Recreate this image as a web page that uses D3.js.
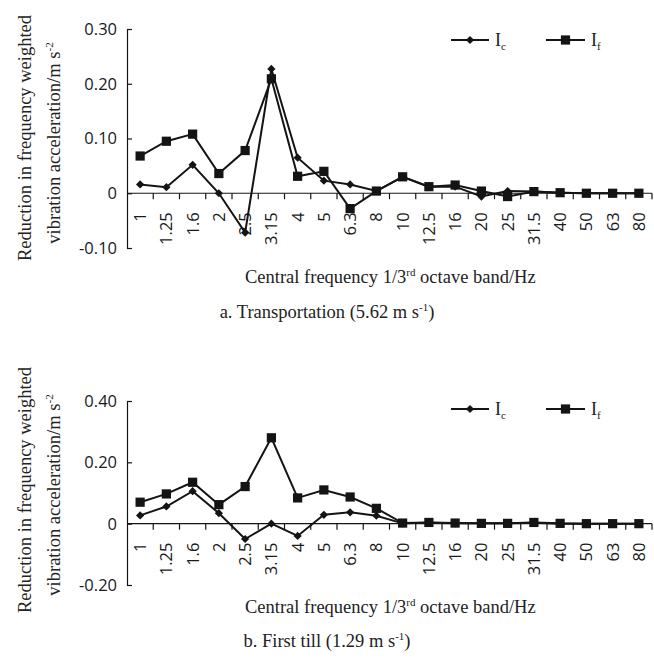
<!DOCTYPE html>
<html>
<head>
<meta charset="utf-8">
<script src="https://cdn.jsdelivr.net/npm/d3@7"></script>
<style>
  body { margin: 0; background: #fff; }
  svg { display: block; }
</style>
</head>
<body>
<script>
// 1/3 octave band centre frequencies (Hz)
const bands = ['1', '1.25', '1.6', '2', '2.5', '3.15', '4', '5', '6.3', '8',
  '10', '12.5', '16', '20', '25', '31.5', '40', '50', '63', '80'];

// a. Transportation
const icTransport = [0.016, 0.011, 0.052, 0.0, -0.072, 0.227, 0.065, 0.023, 0.016, 0.004,
  0.030, 0.012, 0.012, -0.006, 0.004, 0.003, 0.001, 0.0, 0.0, 0.0];
const ifTransport = [0.068, 0.095, 0.108, 0.036, 0.078, 0.209, 0.031, 0.040, -0.028, 0.004,
  0.030, 0.012, 0.015, 0.004, -0.006, 0.003, 0.001, 0.0, 0.0, 0.0];
const yTicksTransport = [0.30, 0.20, 0.10, 0, -0.10];
const yLabelsTransport = ['0.30', '0.20', '0.10', '0', '-0.10'];

// b. First till
const icTill = [0.027, 0.056, 0.106, 0.034, -0.050, 0.0, -0.040, 0.029, 0.037, 0.026,
  0.001, 0.003, 0.001, 0.001, 0.001, 0.003, 0.0, 0.0, 0.0, 0.0];
const ifTill = [0.070, 0.097, 0.135, 0.062, 0.121, 0.280, 0.084, 0.110, 0.087, 0.050,
  0.002, 0.004, 0.002, 0.001, 0.001, 0.004, 0.001, 0.0, 0.0, 0.0];
const yTicksTill = [0.40, 0.20, 0, -0.20];
const yLabelsTill = ['0.40', '0.20', '0', '-0.20'];

const W = 654, H = 658;
const ink = '#141414';
const serif = '"Liberation Serif", "Times New Roman", serif';
const sans = '"Open Sans", sans-serif';

const svg = d3.select('body').append('svg')
  .attr('width', W).attr('height', H);

const x = d3.scaleBand().domain(bands).range([127, 652]);
const cx = b => x(b) + x.bandwidth() / 2;

const panels = [
  { ic: icTransport, iff: ifTransport, ticks: yTicksTransport, labels: yLabelsTransport,
    domain: [-0.10, 0.30], range: [248, 29], legendY: 40, titleY: 283, captionY: 318,
    yTitleMid: 138, caption: ['a. Transportation (5.62 m s', '-1', ')'] },
  { ic: icTill, iff: ifTill, ticks: yTicksTill, labels: yLabelsTill,
    domain: [-0.20, 0.40], range: [585, 401], legendY: 409, titleY: 613, captionY: 647,
    yTitleMid: 490, caption: ['b. First till (1.29 m s', '-1', ')'] }
];

panels.forEach(p => {
  const g = svg.append('g');
  const y = d3.scaleLinear().domain(p.domain).range(p.range);
  const y0 = y(0);

  // y axis, ticks pointing inwards
  const ya = g.append('g')
    .attr('transform', 'translate(127,0)')
    .call(d3.axisRight(y).tickValues(p.ticks).tickSize(5).tickSizeOuter(0).tickFormat(''));
  ya.selectAll('path, line').attr('stroke', ink).attr('stroke-width', 1.2);

  g.selectAll('.ytl')
    .data(p.ticks)
    .join('text')
    .attr('x', 117)
    .attr('y', d => y(d))
    .attr('dy', '0.36em')
    .attr('text-anchor', 'end')
    .style('font-family', sans)
    .style('font-size', '16.5px')
    .attr('fill', '#1a1a1a')
    .text((d, i) => p.labels[i]);

  // x axis along the zero line
  g.append('line')
    .attr('x1', 127).attr('x2', x.range()[1])
    .attr('y1', y0).attr('y2', y0)
    .attr('stroke', ink).attr('stroke-width', 1.2);

  g.selectAll('.xtk')
    .data(bands.slice(1).concat(['end']))
    .join('line')
    .attr('x1', d => d === 'end' ? x.range()[1] : x(d))
    .attr('x2', d => d === 'end' ? x.range()[1] : x(d))
    .attr('y1', y0).attr('y2', y0 + 6)
    .attr('stroke', ink).attr('stroke-width', 1.2);

  g.selectAll('.xtl')
    .data(bands)
    .join('text')
    .attr('transform', d => `translate(${cx(d)},${y0 + 19}) rotate(-90)`)
    .attr('dy', '0.36em')
    .attr('text-anchor', 'end')
    .style('font-family', sans)
    .style('font-size', '16.5px')
    .attr('fill', '#1a1a1a')
    .text(d => d);

  // series
  const line = vals => d3.line()
    .x((d, i) => cx(bands[i]))
    .y(d => y(d))(vals);

  [p.ic, p.iff].forEach(vals => {
    g.append('path')
      .attr('d', line(vals))
      .attr('fill', 'none')
      .attr('stroke', ink)
      .attr('stroke-width', 2);
  });

  const diamond = d3.symbol(d3.symbolSquare, 34)();
  const square = d3.symbol(d3.symbolSquare, 85)();

  g.selectAll('.mk-c')
    .data(p.ic)
    .join('path')
    .attr('d', diamond)
    .attr('transform', (d, i) => `translate(${cx(bands[i])},${y(d)}) rotate(45)`)
    .attr('fill', ink);

  g.selectAll('.mk-f')
    .data(p.iff)
    .join('path')
    .attr('d', square)
    .attr('transform', (d, i) => `translate(${cx(bands[i])},${y(d)})`)
    .attr('fill', ink);

  // legend
  const lg = g.append('g').attr('transform', `translate(0,${p.legendY})`);
  [{ x1: 451, x2: 489, sym: diamond, rot: 45, sub: 'c' },
   { x1: 546, x2: 585, sym: square, rot: 0, sub: 'f' }].forEach(e => {
    lg.append('line')
      .attr('x1', e.x1).attr('x2', e.x2)
      .attr('stroke', ink).attr('stroke-width', 2);
    lg.append('path')
      .attr('d', e.sym)
      .attr('transform', `translate(${(e.x1 + e.x2) / 2},0) rotate(${e.rot})`)
      .attr('fill', ink);
    const t = lg.append('text')
      .attr('x', e.x2 + 6).attr('y', 6)
      .style('font-family', serif)
      .style('font-size', '18px')
      .attr('fill', '#222');
    t.append('tspan').text('I');
    t.append('tspan').attr('dy', 4).style('font-size', '11px').text(e.sub);
  });

  // y axis title, two rotated lines
  g.append('text')
    .attr('transform', `translate(31,${p.yTitleMid}) rotate(-90)`)
    .attr('text-anchor', 'middle')
    .style('font-family', serif)
    .style('font-size', '18.5px')
    .attr('fill', '#222')
    .text('Reduction in frequency weighted');

  const yt2 = g.append('text')
    .attr('transform', `translate(60,${p.yTitleMid + 5}) rotate(-90)`)
    .attr('text-anchor', 'middle')
    .style('font-family', serif)
    .style('font-size', '18.5px')
    .attr('fill', '#222');
  yt2.append('tspan').text('vibration acceleration/m s');
  yt2.append('tspan').attr('dy', -7).style('font-size', '11px').text('-2');

  // x axis title
  const xt = g.append('text')
    .attr('x', 245).attr('y', p.titleY)
    .style('font-family', serif)
    .style('font-size', '18.5px')
    .attr('fill', '#222');
  xt.append('tspan').text('Central frequency 1/3');
  xt.append('tspan').attr('dy', -7).style('font-size', '11px').text('rd');
  xt.append('tspan').attr('dy', 7).text(' octave band/Hz');

  // caption
  const cap = g.append('text')
    .attr('x', 327).attr('y', p.captionY)
    .attr('text-anchor', 'middle')
    .style('font-family', serif)
    .style('font-size', '18.5px')
    .attr('fill', '#222');
  cap.append('tspan').text(p.caption[0]);
  cap.append('tspan').attr('dy', -7).style('font-size', '11px').text(p.caption[1]);
  cap.append('tspan').attr('dy', 7).text(p.caption[2]);
});
</script>
</body>
</html>
